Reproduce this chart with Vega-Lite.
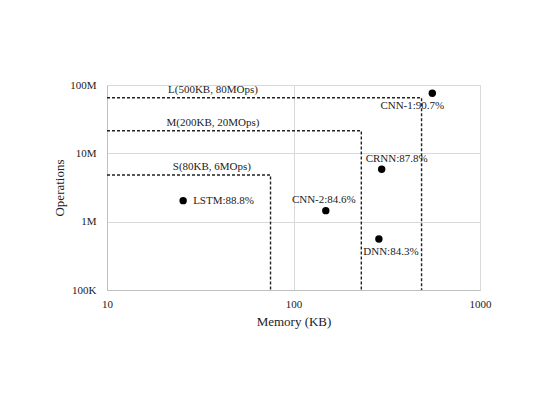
{
  "$schema": "https://vega.github.io/schema/vega-lite/v6.json",
  "autosize": "none",
  "width": 373,
  "height": 205,
  "padding": {"left": 107, "top": 85, "right": 59, "bottom": 127},
  "background": "white",
  "config": {
    "font": "Liberation Serif",
    "view": {"stroke": null},
    "axis": {
      "labelFont": "Liberation Serif",
      "titleFont": "Liberation Serif",
      "labelFontSize": 11,
      "titleFontSize": 13,
      "titleFontWeight": "normal",
      "labelColor": "#222",
      "titleColor": "#222",
      "gridColor": "#d9d9d9",
      "domainColor": "#bfbfbf",
      "ticks": false,
      "labelFlush": false
    }
  },
  "datasets": {
    "models": [
      {"model": "LSTM", "label": "LSTM:88.8%", "memory": 25.6, "ops": 2030000, "place": "right"},
      {"model": "CNN-2", "label": "CNN-2:84.6%", "memory": 149, "ops": 1450000, "place": "above"},
      {"model": "CRNN", "label": "CRNN:87.8%", "memory": 297, "ops": 5840000, "place": "aboveright"},
      {"model": "CNN-1", "label": "CNN-1:90.7%", "memory": 555, "ops": 75600000, "place": "belowleft"},
      {"model": "DNN", "label": "DNN:84.3%", "memory": 287, "ops": 557000, "place": "belowright"}
    ],
    "boxes": [
      {"box": "S", "i": 1, "memory": 10, "ops": 4820000},
      {"box": "S", "i": 2, "memory": 75.3, "ops": 4820000},
      {"box": "S", "i": 3, "memory": 75.3, "ops": 100000},
      {"box": "M", "i": 1, "memory": 10, "ops": 21400000},
      {"box": "M", "i": 2, "memory": 231, "ops": 21400000},
      {"box": "M", "i": 3, "memory": 231, "ops": 100000},
      {"box": "L", "i": 1, "memory": 10, "ops": 65200000},
      {"box": "L", "i": 2, "memory": 486, "ops": 65200000},
      {"box": "L", "i": 3, "memory": 486, "ops": 100000}
    ],
    "boxlabels": [
      {"text": "S(80KB, 6MOps)", "memory": 36.5, "ops": 4820000},
      {"text": "M(200KB, 20MOps)", "memory": 37, "ops": 21400000},
      {"text": "L(500KB, 80MOps)", "memory": 37, "ops": 65200000}
    ]
  },
  "encoding": {
    "x": {
      "field": "memory", "type": "quantitative",
      "scale": {"type": "log", "domain": [10, 1000], "nice": false},
      "axis": {"values": [10, 100, 1000], "format": "d", "title": "Memory (KB)", "labelPadding": 8, "titlePadding": 6, "labelFlush": false}
    },
    "y": {
      "field": "ops", "type": "quantitative",
      "scale": {"type": "log", "domain": [100000, 100000000], "nice": false},
      "axis": {
        "values": [100000, 1000000, 10000000, 100000000],
        "labelExpr": "datum.value >= 1000000 ? format(datum.value/1000000, 'd') + 'M' : format(datum.value/1000, 'd') + 'K'",
        "title": "Operations", "labelPadding": 11, "titlePadding": 3, "labelFlush": false
      }
    }
  },
  "layer": [
    {
      "data": {"name": "boxes"},
      "mark": {"type": "line", "color": "#222", "strokeWidth": 1.4, "strokeDash": [3, 2], "clip": false},
      "encoding": {"detail": {"field": "box"}, "order": {"field": "i"}}
    },
    {
      "data": {"name": "boxlabels"},
      "mark": {"type": "text", "fontSize": 11, "baseline": "middle", "dy": -8, "color": "#222"},
      "encoding": {"text": {"field": "text"}}
    },
    {
      "data": {"name": "models"},
      "mark": {"type": "point", "filled": true, "size": 55, "color": "black", "opacity": 1}
    },
    {
      "data": {"name": "models"},
      "transform": [{"filter": "datum.place == 'right'"}],
      "mark": {"type": "text", "fontSize": 11, "align": "left", "baseline": "middle", "dx": 10, "color": "#222"},
      "encoding": {"text": {"field": "label"}}
    },
    {
      "data": {"name": "models"},
      "transform": [{"filter": "datum.place == 'above'"}],
      "mark": {"type": "text", "fontSize": 11, "align": "center", "baseline": "middle", "dx": -2, "dy": -11, "color": "#222"},
      "encoding": {"text": {"field": "label"}}
    },
    {
      "data": {"name": "models"},
      "transform": [{"filter": "datum.place == 'aboveright'"}],
      "mark": {"type": "text", "fontSize": 11, "align": "center", "baseline": "middle", "dx": 15, "dy": -10, "color": "#222"},
      "encoding": {"text": {"field": "label"}}
    },
    {
      "data": {"name": "models"},
      "transform": [{"filter": "datum.place == 'belowleft'"}],
      "mark": {"type": "text", "fontSize": 11, "align": "center", "baseline": "middle", "dx": -20, "dy": 13, "color": "#222"},
      "encoding": {"text": {"field": "label"}}
    },
    {
      "data": {"name": "models"},
      "transform": [{"filter": "datum.place == 'belowright'"}],
      "mark": {"type": "text", "fontSize": 11, "align": "center", "baseline": "middle", "dx": 12, "dy": 13, "color": "#222"},
      "encoding": {"text": {"field": "label"}}
    }
  ]
}
